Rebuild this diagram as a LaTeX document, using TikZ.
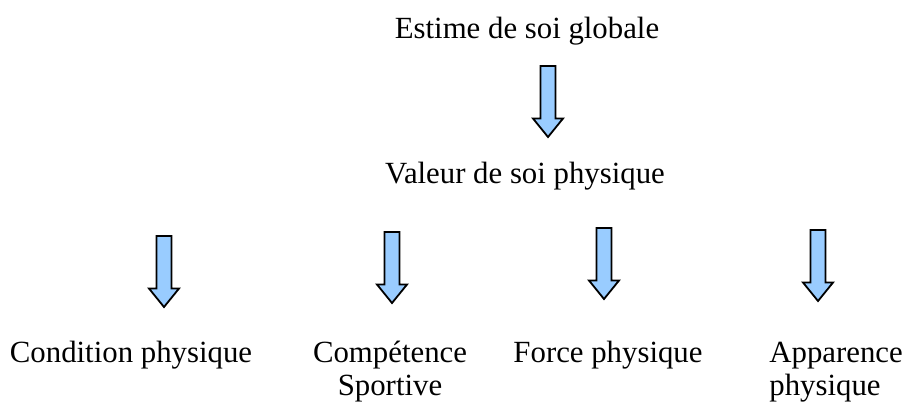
\documentclass[tikz,border=0pt]{standalone}
\usepackage{fontspec}
\setmainfont{Liberation Serif}
\definecolor{arrowblue}{RGB}{153,204,255}
\begin{document}
\begin{tikzpicture}[x=0.5pt,y=-0.5pt,
  lbl/.style={anchor=base,inner sep=0pt,font=\fontsize{15.4}{16.8}\selectfont},
  barrow/.style={draw=black,fill=arrowblue,line width=0.9pt,line join=miter},
  downarr/.pic={\draw[barrow] (-7.5,0) -- (7.5,0) -- (7.5,52.5) -- (15,52.5) -- (0,71) -- (-15,52.5) -- (-7.5,52.5) -- cycle;}]
\useasboundingbox (0,0) rectangle (903,403);
\node[lbl] (estime) at (527,38) {Estime de soi globale};
\node[lbl] (valeur) at (525,183) {Valeur de soi physique};
\node[lbl] (cond) at (131,362) {Condition physique};
\node[lbl] (comp) at (390,362) {\begin{tabular}[t]{@{}c@{}}Compétence\\Sportive\end{tabular}};
\node[lbl] (force) at (608,362) {Force physique};
\node[lbl,anchor=base west] (app) at (769,362) {\begin{tabular}[t]{@{}l@{}}Apparence\\physique\end{tabular}};
\pic at (548,66) {downarr};
\pic at (164,236) {downarr};
\pic at (392,232) {downarr};
\pic at (604,228) {downarr};
\pic at (818,230) {downarr};
\end{tikzpicture}
\end{document}
